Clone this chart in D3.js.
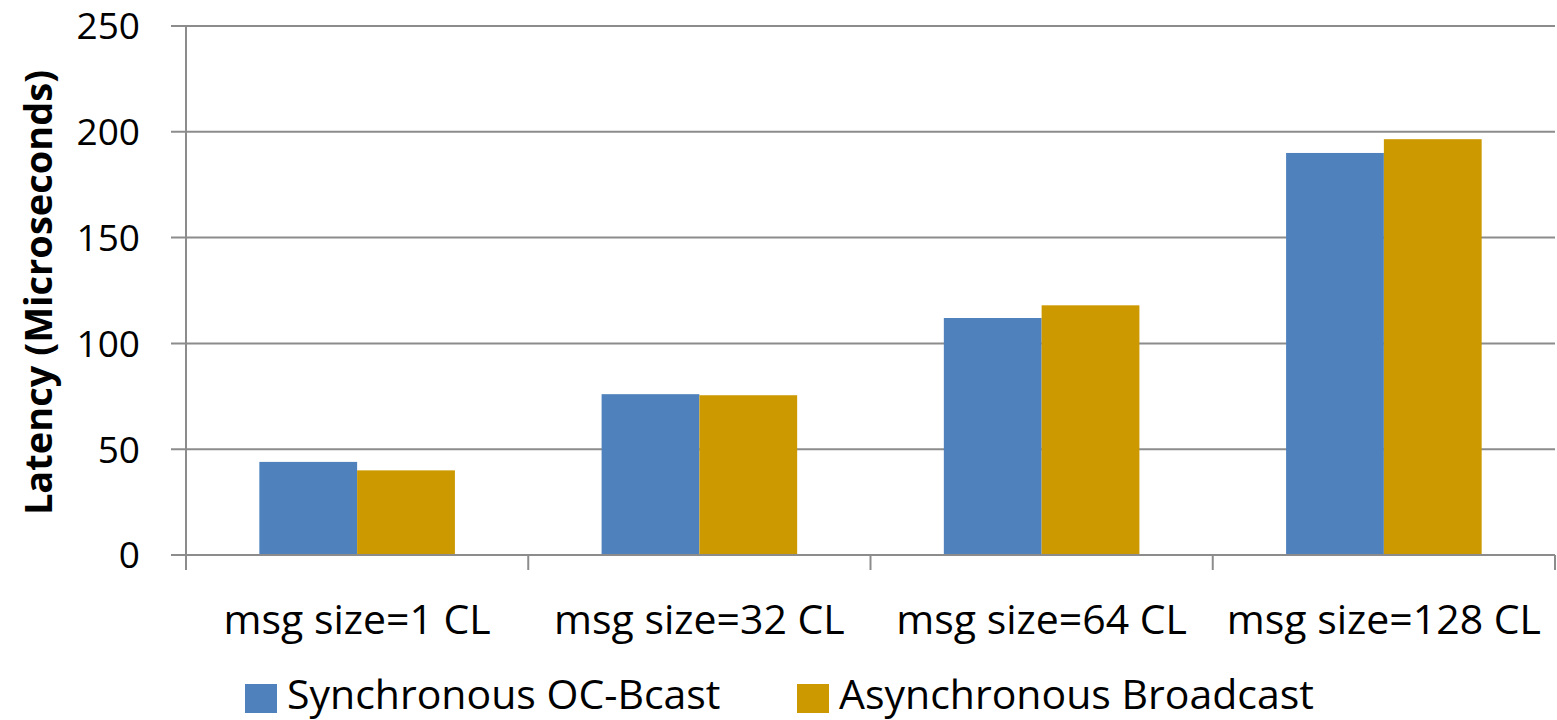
<!DOCTYPE html>
<html>
<head>
<meta charset="utf-8">
<script src="https://cdn.jsdelivr.net/npm/d3@7"></script>
<style>
  html, body { margin: 0; padding: 0; background: #fff; }
  svg { display: block; }
  text { font-family: "Open Sans", "Noto Sans", sans-serif; fill: #000; }
</style>
</head>
<body>
<svg id="chart" width="1557" height="720"></svg>
<script>
// Latency of broadcast implementations by message size
const categories = ["msg size=1 CL", "msg size=32 CL", "msg size=64 CL", "msg size=128 CL"];
const seriesNames = ["Synchronous OC-Bcast", "Asynchronous Broadcast"];
const syncValues = [44, 76, 112, 190];
const asyncValues = [40, 75.5, 118, 196.5];
const yTicks = [0, 50, 100, 150, 200, 250];
const colors = ["#4F81BD", "#CC9900"];

const svg = d3.select("#chart");
const margin = { left: 186, right: 2, top: 26, bottom: 165 };
const W = 1557, H = 720;
const plotW = W - margin.left - margin.right;
const plotH = H - margin.top - margin.bottom;

const x = d3.scaleBand().domain(categories).range([margin.left, margin.left + plotW])
  .paddingInner(0).paddingOuter(0);
// 150% gap between groups: each bar is 1/3.5 of a category band
const x1 = d3.scaleBand().domain(seriesNames).range([0, x.bandwidth()])
  .paddingOuter(0.75).paddingInner(0);
const y = d3.scaleLinear().domain([0, 250]).range([margin.top + plotH, margin.top]);

const gridColor = "#8c8c8c";

// horizontal gridlines with short outer ticks
svg.append("g").selectAll("line").data(yTicks).join("line")
  .attr("x1", margin.left - 15).attr("x2", margin.left + plotW)
  .attr("y1", d => y(d)).attr("y2", d => y(d))
  .attr("stroke", gridColor).attr("stroke-width", 2);

// y axis line
svg.append("line")
  .attr("x1", margin.left).attr("x2", margin.left)
  .attr("y1", y(250)).attr("y2", y(0) + 15)
  .attr("stroke", gridColor).attr("stroke-width", 2);

// category boundary ticks below the axis
const boundaries = categories.map(c => x(c)).concat([margin.left + plotW]);
svg.append("g").selectAll("line").data(boundaries.slice(1)).join("line")
  .attr("x1", d => d).attr("x2", d => d)
  .attr("y1", y(0)).attr("y2", y(0) + 15)
  .attr("stroke", gridColor).attr("stroke-width", 2);

// bars
const data = categories.map((c, i) => ({ cat: c, vals: [syncValues[i], asyncValues[i]] }));
const groups = svg.append("g").selectAll("g").data(data).join("g")
  .attr("transform", d => `translate(${x(d.cat)},0)`);
groups.selectAll("rect").data(d => d.vals.map((v, j) => ({ v, s: seriesNames[j], j })))
  .join("rect")
  .attr("x", d => x1(d.s))
  .attr("width", x1.bandwidth())
  .attr("y", d => y(d.v))
  .attr("height", d => y(0) - y(d.v))
  .attr("fill", d => colors[d.j]);

// zero line drawn over the bar bases
svg.append("line")
  .attr("x1", margin.left - 15).attr("x2", margin.left + plotW)
  .attr("y1", y(0)).attr("y2", y(0))
  .attr("stroke", gridColor).attr("stroke-width", 2);

// y tick labels
svg.append("g").selectAll("text").data(yTicks).join("text")
  .attr("x", 140).attr("y", d => y(d))
  .attr("dy", "0.36em")
  .attr("text-anchor", "end")
  .attr("font-size", 37)
  .text(d => d);

// category labels
svg.append("g").selectAll("text").data(categories).join("text")
  .attr("x", d => x(d) + x.bandwidth() / 2)
  .attr("y", 634)
  .attr("text-anchor", "middle")
  .attr("font-size", 41)
  .text(d => d);

// y axis title
svg.append("text")
  .attr("transform", `translate(52,${(y(0) + y(250)) / 2 + 2}) rotate(-90)`)
  .attr("text-anchor", "middle")
  .attr("font-size", 38)
  .attr("font-weight", "bold")
  .text("Latency (Microseconds)");

// legend
const legendItems = [
  { name: seriesNames[0], color: colors[0], x: 245 },
  { name: seriesNames[1], color: colors[1], x: 797 }
];
const lg = svg.append("g").selectAll("g").data(legendItems).join("g")
  .attr("transform", d => `translate(${d.x},684)`);
lg.append("rect").attr("width", 32).attr("height", 29).attr("fill", d => d.color);
lg.append("text").attr("x", 42).attr("y", 25).attr("font-size", 41).text(d => d.name);
</script>
</body>
</html>
